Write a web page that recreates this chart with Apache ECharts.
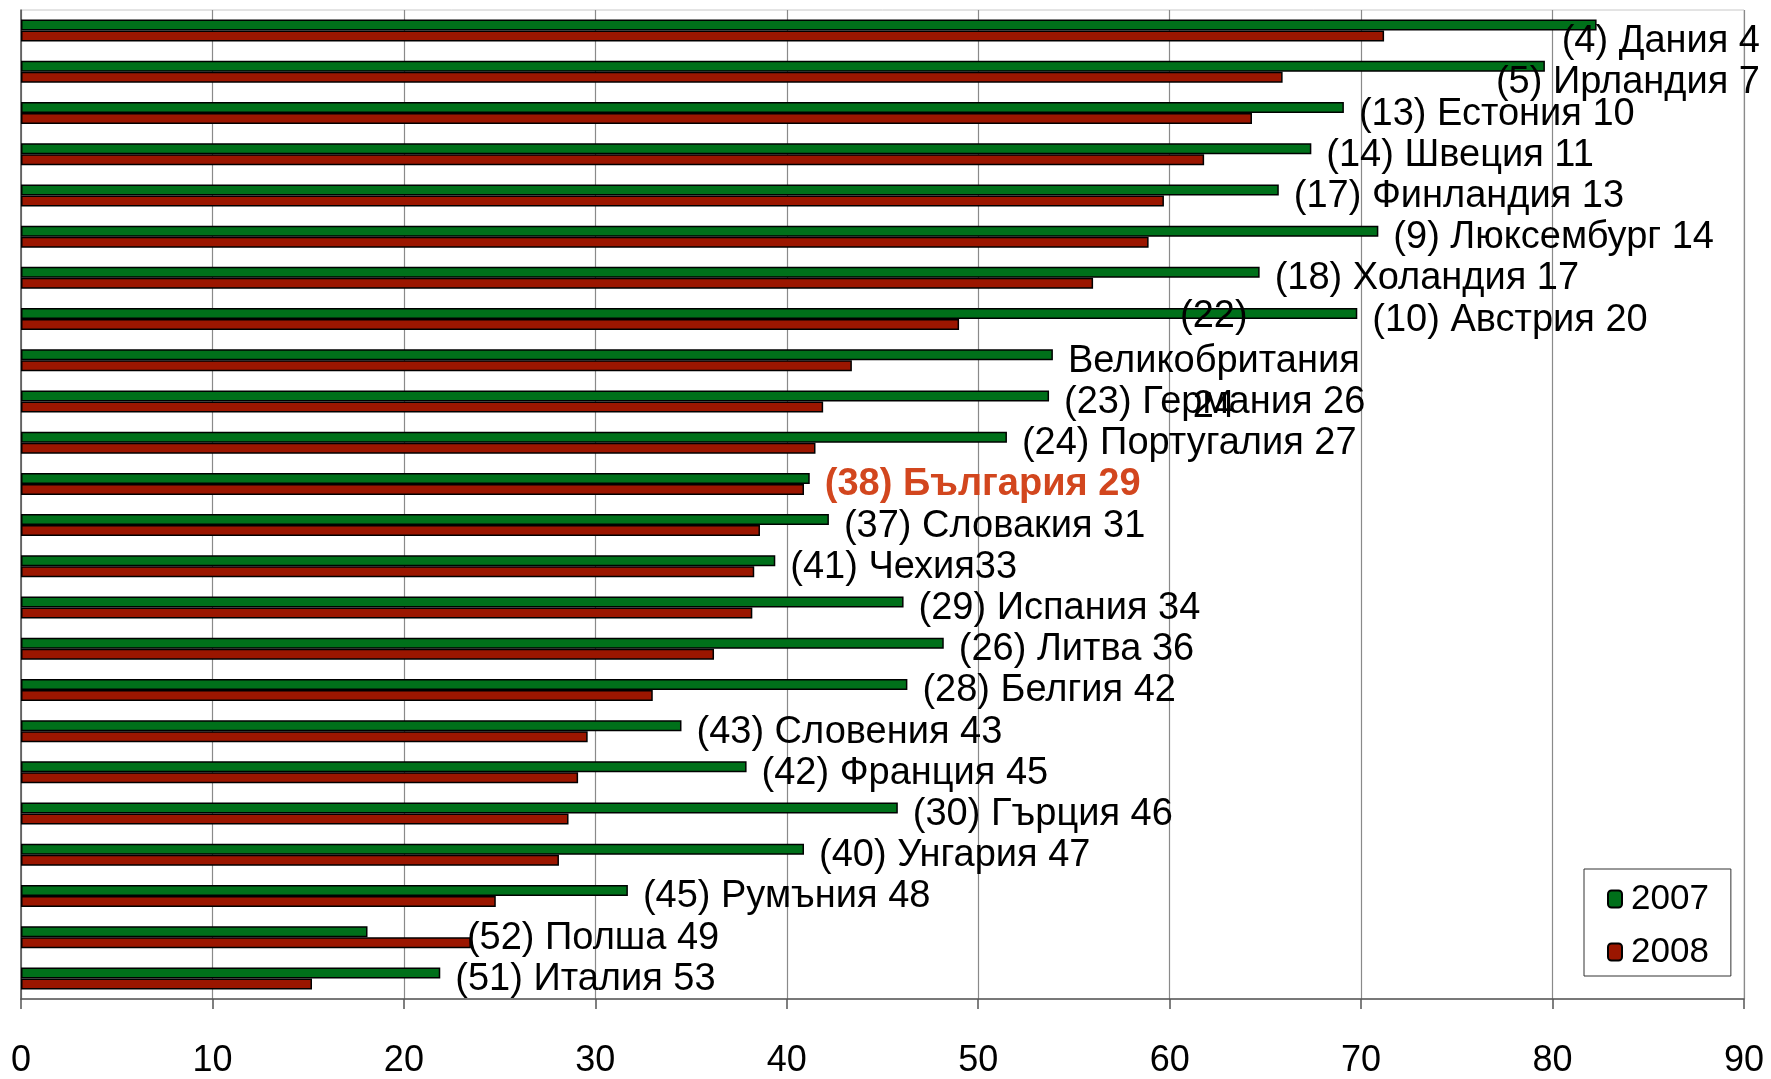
<!DOCTYPE html>
<html>
<head>
<meta charset="utf-8">
<script src="https://cdn.jsdelivr.net/npm/echarts@6/dist/echarts.min.js"></script>
<style>
html,body{margin:0;padding:0;background:#fff;}
#chart{width:1771px;height:1079px;}
</style>
</head>
<body>
<div id="chart"></div>
<script>
// Categories (top to bottom)
const countries = ['Дания','Ирландия','Естония','Швеция','Финландия','Люксембург','Холандия','Австрия','Великобритания','Германия','Португалия','България','Словакия','Чехия','Испания','Литва','Белгия','Словения','Франция','Гърция','Унгария','Румъния','Полша','Италия'];
// Data label texts
const labelTexts = ['(4) Дания 4','(5) Ирландия 7','(13) Естония 10','(14) Швеция 11','(17) Финландия 13','(9) Люксембург 14','(18) Холандия 17','(10) Австрия 20','(22)\nВеликобритания\n24','(23) Германия 26','(24) Португалия 27','(38) България 29','(37) Словакия 31','(41) Чехия33','(29) Испания 34','(26) Литва 36','(28) Белгия 42','(43) Словения 43','(42) Франция 45','(30) Гърция 46','(40) Унгария 47','(45) Румъния 48','(52) Полша 49','(51) Италия 53'];
const highlighted = 'България';
// Series values
const values2007 = [82.3,79.6,69.1,67.4,65.7,70.9,64.7,69.8,53.9,53.7,51.5,41.2,42.2,39.4,46.1,48.2,46.3,34.5,37.9,45.8,40.9,31.7,18.1,21.9];
const values2008 = [71.2,65.9,64.3,61.8,59.7,58.9,56.0,49.0,43.4,41.9,41.5,40.9,38.6,38.3,38.2,36.2,33.0,29.6,29.1,28.6,28.1,24.8,23.5,15.2];
const seriesNames = ['2007','2008'];
// Axis ticks
const xMin = 0, xMax = 90, xStep = 10;

const FONT = "'Liberation Sans', Arial, sans-serif";
const chart = echarts.init(document.getElementById('chart'), null, {renderer:'canvas'});
const W = 1771;

const option = {
  animation: false,
  backgroundColor: '#fff',
  textStyle: {fontFamily: FONT},
  grid: {left: 21, right: 27, top: 10, bottom: 77, show: true, borderColor: '#c8c8c8', borderWidth: 1},
  legend: {
    orient: 'vertical',
    left: 1584, top: 869,
    padding: [12, 22, 6, 23],
    itemGap: 17,
    itemWidth: 14, itemHeight: 17,
    borderColor: '#333', borderWidth: 1, backgroundColor: '#fff',
    textStyle: {fontFamily: FONT, fontSize: 35, color: '#000', lineHeight: 36, padding: [0,0,0,4]},
    data: seriesNames
  },
  xAxis: {
    type: 'value', min: xMin, max: xMax, interval: xStep,
    axisLine: {show: true, lineStyle: {color: '#555', width: 1.5}},
    axisTick: {show: true, length: 10, lineStyle: {color: '#555', width: 1.5}},
    splitLine: {show: true, lineStyle: {color: '#8a8a8a', width: 1.2}},
    axisLabel: {fontFamily: FONT, fontSize: 36, color: '#000', margin: 44}
  },
  yAxis: {
    type: 'category', data: countries, inverse: true,
    axisLine: {show: true, lineStyle: {color: '#555', width: 1.5}},
    axisTick: {show: false},
    axisLabel: {show: false},
    splitLine: {show: false}
  },
  labelLayout: function (p) {
    if (p.seriesIndex !== 0) return {};
    const i = p.dataIndex;
    let x = p.labelRect.x, y = p.labelRect.y - 4;
    // labels sit at the end of the longer of the two bars
    if (values2008[i] > values2007[i]) {
      x += p.rect.width * (values2008[i] / values2007[i] - 1) - 19;
    }
    // keep labels inside the chart, nudged below the bar
    if (x + p.labelRect.width > W - 10) {
      x = W - 11 - p.labelRect.width;
      y += 10;
    }
    return {x: x, y: y};
  },
  series: [
    {
      name: seriesNames[0], type: 'bar', data: values2007,
      barWidth: 11, barGap: '0%',
      itemStyle: {color: '#00701A', borderColor: '#000', borderWidth: 1.5},
      label: {
        show: true, position: 'right', distance: 15, offset: [0, 7],
        formatter: function (p) {
          const s = countries[p.dataIndex] === highlighted ? 'h' : 'n';
          return labelTexts[p.dataIndex].split('\n').map(l => '{' + s + '|' + l + '}').join('\n');
        },
        rich: {
          n: {fontFamily: FONT, fontSize: 38, color: '#000', align: 'center', lineHeight: 45},
          h: {fontFamily: FONT, fontSize: 38, color: '#D2461E', fontWeight: 'bold', align: 'center', lineHeight: 45}
        }
      }
    },
    {
      name: seriesNames[1], type: 'bar', data: values2008,
      barWidth: 11,
      itemStyle: {color: '#9B1600', borderColor: '#000', borderWidth: 1.5}
    }
  ]
};
chart.setOption(option);
</script>
</body>
</html>
